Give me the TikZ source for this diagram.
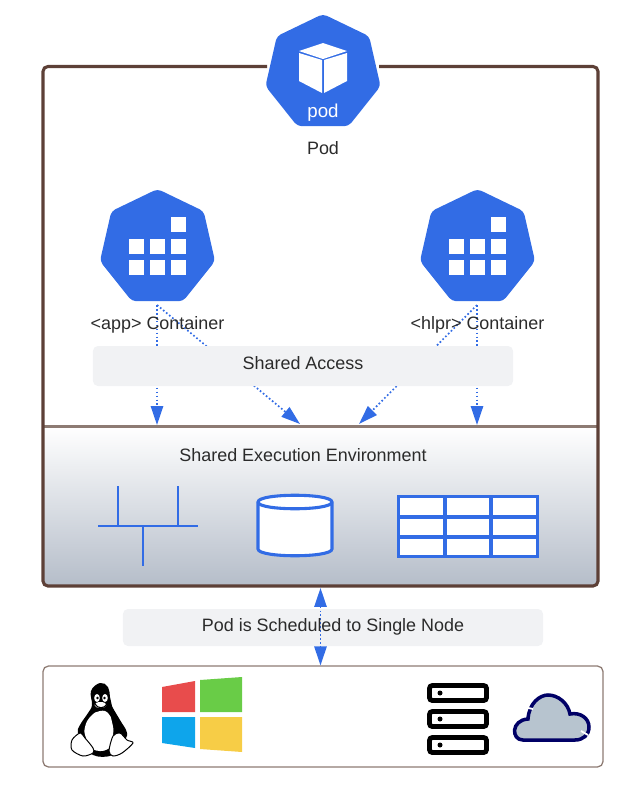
\documentclass[tikz,border=0pt]{standalone}
\usepackage{fontspec}
\setmainfont{Liberation Sans}
\usetikzlibrary{arrows.meta, shapes.geometric}
\definecolor{kubeblue}{HTML}{326CE5}
\definecolor{frameBrown}{HTML}{5D4037}
\definecolor{thinBrown}{HTML}{8D7B73}
\definecolor{panelGray}{HTML}{F1F2F4}
\definecolor{envGray}{HTML}{B5BDC9}
\definecolor{labelInk}{HTML}{2B2B2B}
\definecolor{cloudNavy}{HTML}{000066}
\definecolor{cloudFill}{HTML}{B7C4CF}
\definecolor{winRed}{HTML}{E84C4C}
\definecolor{winGreen}{HTML}{69CC47}
\definecolor{winBlue}{HTML}{0EA5EB}
\definecolor{winYellow}{HTML}{F7CD46}
\tikzset{
  hept/.style={regular polygon, regular polygon sides=7, fill=kubeblue, draw=none,
    minimum size=2.95cm, inner sep=0pt, outer sep=0pt, rounded corners=3pt},
  lbl/.style={text=labelInk, font=\fontsize{12.75}{15}\selectfont, inner sep=0pt},
  panel/.style={fill=panelGray, rounded corners=3.5pt, minimum width=10.5cm, inner sep=0pt},
  link/.style={kubeblue, line width=1.2pt, dash pattern=on 1.2pt off 1.6pt,
    -{Triangle[length=13.5pt, width=8.8pt]}},
  twolink/.style={kubeblue, line width=1.2pt, dash pattern=on 1.2pt off 1.6pt,
    {Triangle[length=13.5pt, width=8.8pt]}-{Triangle[length=13.5pt, width=8.8pt]}},
  thickblue/.style={kubeblue, line width=2.2pt},
  thinblue/.style={kubeblue, line width=1.5pt},
  rack/.style={draw=black, line width=3.4pt, fill=white, rounded corners=2pt},
  tuxfoot/.style={black, fill=white, line width=.7pt},
}
\begin{document}
\begin{tikzpicture}[x=0.025cm, y=-0.025cm]
    \useasboundingbox (0, 0) rectangle (643, 810);

    % execution environment and outer frame
    \node[rectangle, minimum width=13.875cm, minimum height=4cm, inner sep=0pt,
      top color=white, bottom color=envGray, rounded corners=3.5pt] (envbox) at (320.5, 506) {};
    \draw[thinBrown, line width=1.5pt] (43, 426.5) -- (598, 426.5);
    \draw[frameBrown, line width=2.2pt, rounded corners=3.5pt]
      (267, 66.5) -- (43, 66.5) -- (43, 586) -- (598, 586) -- (598, 66.5) -- (379, 66.5);

    % hosts
    \node[rectangle, draw=thinBrown, line width=.9pt, rounded corners=4pt, minimum width=14cm,
      minimum height=2.525cm, inner sep=0pt] (hostbox) at (323, 716.5) {};

    % pod and containers
    \node[hept] (pod) at (323, 73) {};
    \node[hept] (app) at (157.5, 248) {};
    \node[hept] (hlpr) at (477.5, 248) {};
    \fill[white] (323, 43) -- (347, 51) -- (323, 59) -- (299, 51) -- cycle;
    \fill[white] (299, 53) -- (322, 60) -- (322, 93) -- (299, 81) -- cycle;
    \fill[white] (347, 53) -- (324, 60) -- (324, 93) -- (347, 81) -- cycle;
    \node[text=white, font=\fontsize{13.3}{15}\selectfont, inner sep=0pt] (podword) at (323, 112.5) {pod};
    \foreach \dx in {0, 320} {
      \foreach \cx in {129, 150, 171}
        \foreach \cy in {239, 260}
          \fill[white] (\cx+\dx, \cy) rectangle (\cx+\dx+15, \cy+15);
      \fill[white] (171+\dx, 217) rectangle (186+\dx, 232);
    }

    % arrow ends on the environment
    \coordinate (appdown) at (157, 425);
    \coordinate (appmid) at (300, 424);
    \coordinate (hlprmid) at (359, 424);
    \coordinate (hlprdown) at (477, 425);
    \coordinate (apptop) at (157, 305);
    \coordinate (hlprtop) at (477, 305);
    \draw[link] (apptop) -- (appdown);
    \draw[link] (apptop) -- (appmid);
    \draw[link] (hlprtop) -- (hlprdown);
    \draw[link] (hlprtop) -- (hlprmid);

    \node[panel, minimum height=1cm] (access) at (303, 366) {};
    \node[panel, minimum height=.925cm] (sched) at (333, 627.5) {};
    \coordinate (envunder) at (320.5, 588);
    \draw[twolink] (envunder) -- (envunder |- hostbox.north);

    \node[lbl] (podlbl) at (323, 148.5) {Pod};
    \node[lbl] (applbl) at (157.5, 325) {<app> Container};
    \node[lbl] (hlprlbl) at (477.5, 325) {<hlpr> Container};
    \node[lbl] (accesslbl) at (303, 363) {Shared Access};
    \node[lbl] (envlbl) at (303, 455.5) {Shared Execution Environment};
    \node[lbl] (schedlbl) at (333, 626.5) {Pod is Scheduled to Single Node};

    % network
    \draw[thinblue] (98, 526) -- (198, 526);
    \draw[thinblue] (118, 486) -- (118, 526);
    \draw[thinblue] (178, 486) -- (178, 526);
    \draw[thinblue] (143, 526) -- (143, 566);

    % volume
    \draw[thickblue, fill=white] (258, 502) -- (258, 549)
      .. controls (258, 558) and (332, 558) .. (332, 549) -- (332, 502)
      .. controls (332, 493) and (258, 493) .. (258, 502) -- cycle;
    \draw[thickblue] (258, 502) .. controls (258, 511) and (332, 511) .. (332, 502);

    % table
    \draw[thickblue, fill=white] (398.5, 496.5) rectangle (537.5, 556.5);
    \foreach \x in {445, 491}
      \draw[thickblue] (\x, 496.5) -- (\x, 556.5);
    \foreach \y in {517, 537}
      \draw[thickblue] (398.5, \y) -- (537.5, \y);

    % penguin
    \fill[black] plot[smooth cycle, tension=.7] coordinates {(100, 683) (108, 687) (110, 697) (112, 706)
      (120, 720) (127, 733) (123, 742) (113, 755) (93, 755) (87, 742) (78, 733) (80, 725) (88, 713) (92, 705) (91, 691)};
    \fill[white] plot[smooth cycle, tension=.8] coordinates {(100, 711) (108, 713) (112, 722) (113, 735)
      (108, 749) (92, 749) (86, 738) (85, 727) (91, 716)};
    \fill[white] (97, 698) ellipse (2.8 and 4);
    \fill[white] (105, 698) ellipse (2.8 and 4);
    \fill[black] (97.5, 698) circle (1.3);
    \fill[black] (104.5, 698) circle (1.3);
    \fill[white] (100.5, 705) ellipse (6 and 3);
    \draw[black, line width=.8pt] (95, 704) .. controls (98, 709) and (104, 709) .. (107, 704);
    \draw[tuxfoot] plot[smooth cycle, tension=.5] coordinates {(72, 740) (80, 733) (85, 738)
      (93, 748) (93, 753) (83, 756) (72, 750)};
    \draw[tuxfoot] plot[smooth cycle, tension=.5] coordinates {(113, 736) (120, 733) (127, 740)
      (133, 743) (122, 753) (113, 756) (109, 751)};

    % windows
    \fill[winRed] (162, 687) -- (195, 681) -- (195, 712) -- (162, 712) -- cycle;
    \fill[winGreen] (200, 680) -- (242, 677) -- (242, 712) -- (200, 712) -- cycle;
    \fill[winBlue] (162, 717) -- (195, 717) -- (195, 748) -- (162, 743) -- cycle;
    \fill[winYellow] (200, 717) -- (242, 717) -- (242, 752) -- (200, 749) -- cycle;

    % server
    \foreach \y in {685.5, 711.5, 737.5} {
      \draw[rack] (429.5, \y) rectangle (486.5, \y+15);
      \fill[black] (440, \y+7.5) circle (2.5);
    }

    % cloud
    \draw[cloudNavy, fill=cloudFill, line width=2.5pt] (523, 740) .. controls (511, 740) and (511, 720) .. (528, 719)
      .. controls (529, 703) and (540, 695) .. (548, 695)
      .. controls (558, 695) and (568, 703) .. (570, 714)
      .. controls (580, 712) and (589, 718) .. (589, 727)
      .. controls (589, 735) and (583, 740) .. (575, 740) -- cycle;
    \draw[white, line width=1.3pt] (526, 707.5) -- (533, 709);
    \draw[white, line width=1.3pt] (581, 731) -- (588, 735);
\end{tikzpicture}
\end{document}
